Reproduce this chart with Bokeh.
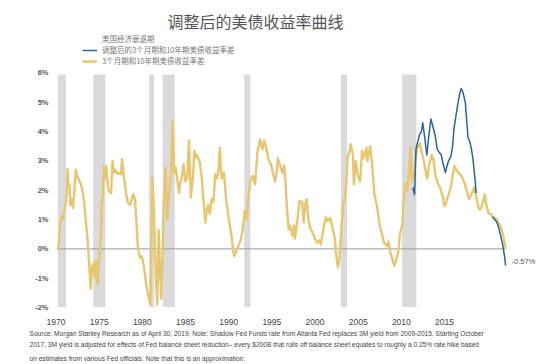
import numpy as np
from bokeh.plotting import figure
from bokeh.models import (Range1d, FixedTicker, PrintfTickFormatter, Label, Legend,
                          LegendItem, LinearAxis, Title)
from bokeh.embed import file_html
from bokeh.resources import INLINE

# ---------------- data ----------------
rec_start = [1969.92, 1973.83, 1980.00, 1981.50, 1990.50, 2001.17, 2007.92]
rec_end = [1970.83, 1975.17, 1980.55, 1982.83, 1991.17, 2001.85, 2009.50]

spread_year = [
    1969.92, 1970.05, 1970.2, 1970.35, 1970.5, 1970.65, 1970.8, 1970.92, 1971.0, 1971.1,
    1971.2, 1971.3, 1971.45, 1971.6, 1971.75, 1971.9, 1972.1, 1972.35, 1972.6, 1972.8,
    1973.0, 1973.2, 1973.4, 1973.55, 1973.7, 1973.85, 1974.0, 1974.15, 1974.3, 1974.45,
    1974.55, 1974.7, 1974.75, 1974.9, 1975.0, 1975.1, 1975.25, 1975.5, 1975.8, 1975.95,
    1976.1, 1976.3, 1976.5, 1976.7, 1976.9, 1977.0, 1977.2, 1977.45, 1977.65, 1977.9,
    1978.1, 1978.25, 1978.45, 1978.6, 1978.75, 1978.9, 1979.0, 1979.2, 1979.4, 1979.55,
    1979.7, 1979.85, 1980.0, 1980.15, 1980.25, 1980.35, 1980.5, 1980.6, 1980.75, 1980.9,
    1981.05, 1981.2, 1981.35, 1981.5, 1981.6, 1981.8, 1982.0, 1982.2, 1982.4, 1982.6,
    1982.75, 1982.9, 1983.1, 1983.3, 1983.45, 1983.6, 1983.8, 1984.0, 1984.2, 1984.4,
    1984.6, 1984.85, 1985.0, 1985.15, 1985.3, 1985.6, 1985.8, 1986.05, 1986.2, 1986.35,
    1986.5, 1986.7, 1986.9, 1987.1, 1987.3, 1987.5, 1987.65, 1987.8, 1988.0, 1988.25,
    1988.5, 1988.8, 1989.1, 1989.3, 1989.4, 1989.6, 1989.85, 1990.1, 1990.3, 1990.55,
    1990.75, 1990.9, 1991.15, 1991.45, 1991.7, 1991.95, 1992.25, 1992.5, 1992.7, 1992.95,
    1993.2, 1993.45, 1993.65, 1993.9, 1994.1, 1994.2, 1994.5, 1994.7, 1994.9, 1995.05,
    1995.2, 1995.4, 1995.55, 1995.8, 1996.0, 1996.1, 1996.4, 1996.6, 1996.9, 1997.05,
    1997.25, 1997.4, 1997.55, 1997.8, 1998.05, 1998.3, 1998.55, 1998.8, 1998.95, 1999.25,
    1999.5, 1999.7, 2000.0, 2000.25, 2000.5, 2000.65, 2000.85, 2001.0, 2001.15, 2001.4,
    2001.6, 2001.75, 2001.9, 2002.1, 2002.25, 2002.5, 2002.6, 2002.8, 2003.05, 2003.3,
    2003.5, 2003.7, 2004.0, 2004.1, 2004.4, 2004.6, 2004.85, 2005.15, 2005.45, 2005.65,
    2005.95, 2006.25, 2006.4, 2006.6, 2006.85, 2007.05, 2007.3, 2007.5, 2007.7, 2007.95,
    2008.05, 2008.3, 2008.5, 2008.7, 2008.85, 2009.0, 2009.25, 2009.45, 2009.6, 2009.9,
    2010.0, 2010.25, 2010.5, 2010.7, 2010.9, 2011.2, 2011.4, 2011.6, 2011.9, 2012.1,
    2012.4, 2012.6, 2012.8, 2013.05, 2013.3, 2013.5, 2013.7, 2013.9, 2014.15, 2014.45,
    2014.75, 2015.0, 2015.3, 2015.5, 2015.7, 2015.9, 2016.15, 2016.4, 2016.6, 2016.8,
    2017.05, 2017.25, 2017.5, 2017.7, 2017.9, 2018.15, 2018.4, 2018.6, 2018.8, 2019.05,
    2019.25, 2019.35]
spread_value = [
    -0.05, 0.3, 0.9, 1.1, 1.0, 1.35, 1.6, 1.9, 2.72, 2.1,
    2.2, 1.5, 1.7, 1.4, 2.0, 2.7, 2.45, 2.3, 2.05, 1.7,
    1.0, 0.33, -0.6, -1.37, -0.58, -0.5, -1.0, -0.4, -1.2, -0.5,
    -0.13, 0.6, 1.4, 1.9, 2.8, 2.4, 2.83, 2.0, 1.9, 3.0,
    2.6, 2.7, 2.55, 2.6, 2.55, 3.06, 2.5, 1.9, 1.58, 1.5,
    1.7, 1.87, 1.7, 0.9, 0.1, -0.2, -0.3, -0.25, -0.58, -0.9,
    -1.26, -1.5, -1.72, -1.9, 0.2, 2.43, 1.5, 0.5, -1.0, -1.9,
    0.65, -0.8, -1.7, 0.2, 1.5, 2.78, 1.0, 1.9, 2.5, 4.37,
    2.6, 2.8, 2.4, 1.9, 2.3, 2.4, 2.9, 2.3, 2.4, 3.7,
    1.75, 2.5, 3.35, 3.1, 3.2, 2.95, 2.45, 1.47, 0.9, 1.3,
    1.5, 1.2, 1.7, 1.6, 2.55, 2.4, 2.7, 3.45, 2.4, 2.6,
    1.7, 1.0, 0.44, -0.1, -0.24, -0.1, 0.1, 0.3, 0.6, 1.3,
    1.0, 1.6, 2.3, 2.5, 2.2, 3.3, 3.74, 3.4, 3.7, 3.4,
    3.0, 2.9, 2.6, 2.3, 2.7, 3.1, 2.8, 2.6, 2.85, 2.3,
    1.45, 0.67, 0.8, 0.45, 0.8, 0.35, 1.1, 1.63, 1.6, 0.9,
    1.55, 1.7, 1.05, 0.7, 0.55, 0.35, 0.2, 0.3, 0.15, 0.7,
    1.07, 0.95, 1.05, 0.7, 0.35, -0.2, -0.64, -0.33, 0.35, 1.47,
    1.75, 2.2, 3.1, 3.3, 3.57, 3.2, 2.2, 3.0, 2.5, 2.3,
    3.35, 3.1, 3.45, 3.0, 3.5, 2.9, 1.9, 1.45, 0.8, 0.55,
    0.2, 0.1, 0.25, -0.08, -0.35, -0.58, -0.35, -0.1, 0.55, 0.8,
    1.45, 2.26, 2.0, 2.6, 3.46, 2.3, 2.55, 3.17, 3.45, 3.6,
    3.4, 3.1, 2.7, 2.4, 2.85, 3.2, 3.0, 2.5, 2.2, 2.1,
    1.8, 1.45, 1.6, 1.85, 2.1, 2.5, 2.83, 2.7, 2.6, 2.5,
    2.3, 2.05, 1.7, 1.8, 1.95, 2.1, 1.7, 1.35, 1.35, 1.55,
    1.85, 1.45, 1.2, 1.2, 1.1, 1.05, 1.0, 0.85, 0.75, 0.5,
    0.17, 0.0]

nan = float("nan")
adj_year = [
    2009.1, 2009.3, 2009.45, 2009.65, 2009.85, 2010.05, 2010.2, 2010.4, 2010.65, 2010.85,
    2011.1, 2011.3, 2011.55, 2011.8, 2012.0, 2012.25, 2012.45, 2012.7, 2012.85, 2013.05,
    2013.3, 2013.5, 2013.65, 2013.85, 2014.05, 2014.3, 2014.45, 2014.65, 2014.9, 2015.05,
    2015.2, 2015.4, 2015.55, 2015.75, 2015.95, 2016.1, 2017.0, 2017.9, 2018.15, 2018.4,
    2018.6, 2018.8, 2019.05, 2019.25, 2019.35]
adj_value = [
    2.1, 1.85, 3.4, 3.65, 3.9, 4.0, 4.3, 3.85, 3.2, 3.8,
    4.43, 4.2, 3.9, 3.4, 3.3, 3.2, 2.9, 2.6, 2.8, 3.0,
    3.15, 3.5, 4.1, 4.5, 4.9, 5.33, 5.47, 5.33, 5.0, 4.4,
    3.8, 3.65, 3.45, 3.05, 2.45, 1.9, nan, 1.1, 1.0, 0.9,
    0.7, 0.45, 0.1, -0.3, -0.57]

x_tick_labels = [1970, 1975, 1980, 1985, 1990, 1995, 2000, 2005, 2010, 2015]
y_ticks = [-2, -1, 0, 1, 2, 3, 4, 5, 6]

title_text = "调整后的美债收益率曲线"
legend_labels = ["美国经济衰退期", "调整后的3个月期和10年期美债收益率差", "3个月期和10年期美债收益率差"]
footnote = [
    "Source: Morgan Stanley Research as of April 30, 2019. Note: Shadow Fed Funds rate from Atlanta Fed replaces 3M yield from 2009-2015. Starting October",
    "2017, 3M yield is adjusted for effects of Fed balance sheet reduction\u2013 every $200B that rolls off balance sheet equates to roughly a 0.25% rate hike based",
    "on estimates from various Fed officials. Note that this is an approximation.",
]

# ---------------- styles ----------------
YELLOW = "#E8C670"
BLUE = "#2A6599"
GRAY = "#DADADA"
CJK = "Noto Sans CJK SC"
LAT = "Liberation Sans"

p = figure(width=550, height=364,
           x_range=Range1d(1969.556, 2023.2), y_range=Range1d(-2.0, 8.473),
           output_backend="svg", toolbar_location=None, title=None,
           x_axis_location=None,
           min_border_left=54, min_border_right=10, min_border_top=0, min_border_bottom=57)
p.outline_line_color = None
p.xgrid.visible = False
p.ygrid.visible = False
p.background_fill_color = "white"
p.border_fill_color = "white"

# label axis that follows the reference's tick placement
p.extra_x_ranges = {"lab": Range1d(1969.826, 2026.12)}
xax = LinearAxis(x_range_name="lab", ticker=FixedTicker(ticks=x_tick_labels),
                 formatter=PrintfTickFormatter(format="%d"))
xax.axis_line_color = None
xax.major_tick_line_color = None
xax.minor_tick_line_color = None
xax.major_label_standoff = 5
xax.major_label_text_font = LAT
xax.major_label_text_font_size = "8.5px"
xax.major_label_text_color = "#444444"
p.add_layout(xax, "below")

for i, txt in enumerate(footnote):
    t = Title(text=txt, align="left", offset=-25, standoff=[0, 4, 6][i],
              text_font=LAT, text_font_size="6.6px", text_font_style="normal",
              text_color="#444444")
    p.add_layout(t, "below")

yax = p.yaxis[0]
yax.ticker = FixedTicker(ticks=y_ticks)
yax.formatter = PrintfTickFormatter(format="%d%%")
yax.axis_line_color = None
yax.major_tick_line_color = None
yax.minor_tick_line_color = None
yax.major_tick_out = 0
yax.major_label_standoff = 6
yax.major_label_text_font = LAT
yax.major_label_text_font_size = "7.5px"
yax.major_label_text_font_style = "bold"
yax.major_label_text_color = "#555555"

# recession bars
p.quad(left=rec_start, right=rec_end, bottom=-1.98, top=5.95,
       fill_color=GRAY, line_color=None)

# zero line
p.segment(x0=[spread_year[0]], x1=[spread_year[-1]], y0=[0], y1=[0],
          line_color="#9A9A9A", line_width=1)

r_y = p.line(spread_year, spread_value, line_color=YELLOW, line_width=2.4, line_join="round")
r_b = p.line(np.array(adj_year), np.array(adj_value, dtype=float), line_color=BLUE,
             line_width=1.5, line_join="round")
r_g = p.line(x=[], y=[], line_color=GRAY, line_width=5)

legend = Legend(items=[LegendItem(label=legend_labels[0], renderers=[r_g]),
                       LegendItem(label=legend_labels[1], renderers=[r_b]),
                       LegendItem(label=legend_labels[2], renderers=[r_y])],
                location=(28, 241))
legend.border_line_color = None
legend.background_fill_alpha = 0
legend.padding = 0
legend.margin = 0
legend.spacing = -2
legend.glyph_width = 15
legend.glyph_height = 10
legend.label_height = 10
legend.label_standoff = 5
legend.label_text_font = CJK
legend.label_text_font_size = "7.5px"
legend.label_text_color = "#777777"
p.add_layout(legend)

# title
p.add_layout(Label(x=1991.74, y=7.77, text=title_text, text_align="center",
                   text_baseline="middle", text_font=CJK, text_font_size="16px",
                   text_color="#555555"))

# end label
p.add_layout(Label(x=adj_year[-1], y=adj_value[-1], x_offset=6, y_offset=4,
                   text=f"{adj_value[-1]:.2f}%", text_align="left", text_baseline="middle",
                   text_font=LAT, text_font_size="7.5px", text_color="#555555"))

open("out.html", "w").write(file_html(p, INLINE))
